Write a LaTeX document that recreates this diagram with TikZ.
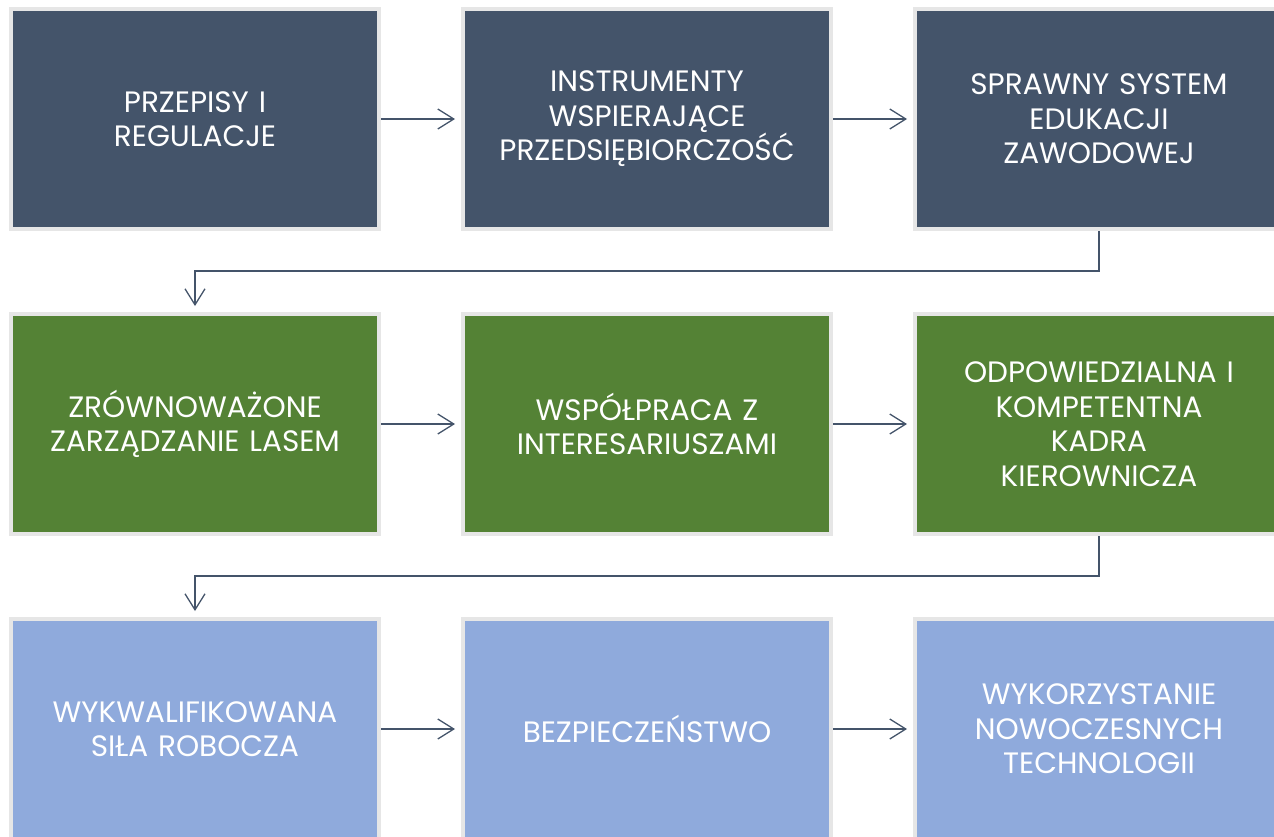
\documentclass[tikz,border=0pt]{standalone}
\usepackage{fontspec}
\setmainfont{Poppins}
\usetikzlibrary{arrows.meta,positioning}
\definecolor{slate}{HTML}{44546A}
\definecolor{leafgreen}{HTML}{548235}
\definecolor{skyblue}{HTML}{8FAADC}
\definecolor{rimgray}{HTML}{E6E6E6}
\newcommand{\myboxfont}{\fontsize{29.5}{34.5}\selectfont}
\begin{document}
\begin{tikzpicture}[x=1pt,y=-1pt,
	box/.style={draw=rimgray, line width=4pt, minimum width=368pt, minimum height=220pt,
		text=white, align=center, text width=360pt, inner sep=0pt, font=\myboxfont},
	flow/.style={draw=slate, line width=1.3pt, shorten >=6pt,
		-{Straight Barb[length=16pt,width=20pt,line width=1.3pt]}}]
	\useasboundingbox (0,0) rectangle (1274,836);
	%Row 1
	\node [box, fill=slate] (regulacje) at (195,119) {PRZEPISY I\\REGULACJE};
	\node [box, fill=slate] (instrumenty) at (647,119) {INSTRUMENTY\\WSPIERAJĄCE\\PRZEDSIĘBIORCZOŚĆ};
	\node [box, fill=slate] (edukacja) at (1099,119) {SPRAWNY SYSTEM\\EDUKACJI\\ZAWODOWEJ};
	%Row 2
	\node [box, fill=leafgreen] (las) at (195,424) {ZRÓWNOWAŻONE\\ZARZĄDZANIE LASEM};
	\node [box, fill=leafgreen] (wspolpraca) at (647,424) {WSPÓŁPRACA Z\\INTERESARIUSZAMI};
	\node [box, fill=leafgreen] (kadra) at (1099,424) {ODPOWIEDZIALNA I\\KOMPETENTNA\\KADRA\\KIEROWNICZA};
	%Row 3
	\node [box, fill=skyblue] (robocza) at (195,729) {WYKWALIFIKOWANA\\SIŁA ROBOCZA};
	\node [box, fill=skyblue] (bezpieczenstwo) at (647,729) {BEZPIECZEŃSTWO};
	\node [box, fill=skyblue] (technologie) at (1099,729) {WYKORZYSTANIE\\NOWOCZESNYCH\\TECHNOLOGII};
	%Arrows within the rows
	\draw [flow] (regulacje) -- (instrumenty);
	\draw [flow] (instrumenty) -- (edukacja);
	\draw [flow] (las) -- (wspolpraca);
	\draw [flow] (wspolpraca) -- (kadra);
	\draw [flow] (robocza) -- (bezpieczenstwo);
	\draw [flow] (bezpieczenstwo) -- (technologie);
	%Elbows down to the next row
	\draw [flow] (edukacja.south) -- ++(0,40) -| (las.north);
	\draw [flow] (kadra.south) -- ++(0,40) -| (robocza.north);
\end{tikzpicture}
\end{document}
